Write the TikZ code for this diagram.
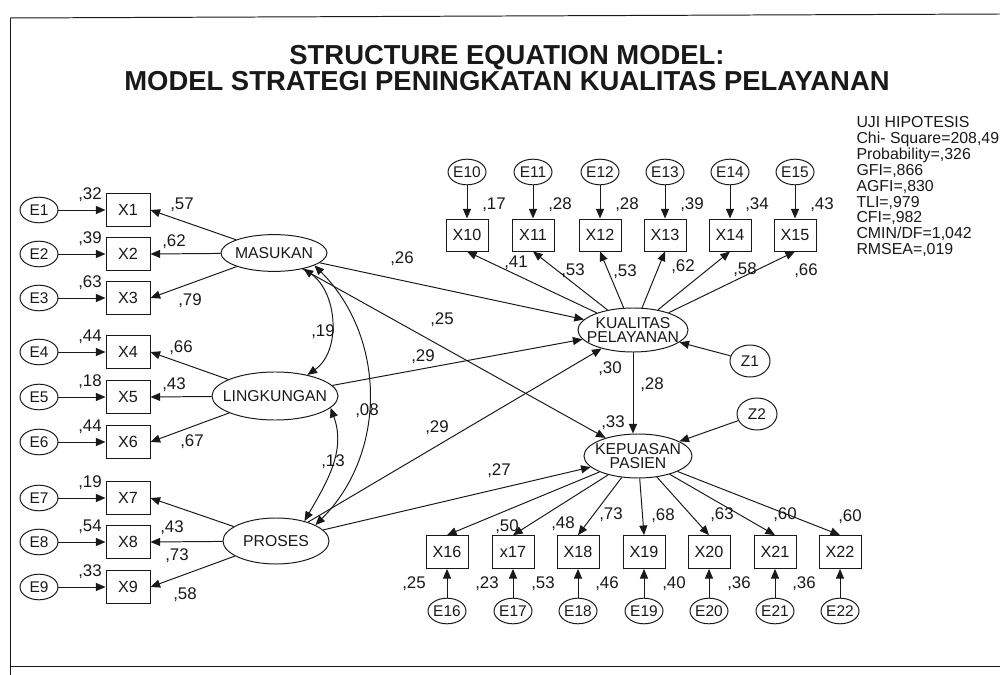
\documentclass[tikz,border=0pt]{standalone}
\usepackage{fontspec}
\setmainfont{Liberation Sans}
\definecolor{scanblack}{RGB}{25,25,25}
\usetikzlibrary{arrows.meta, shapes.geometric, calc}

\begin{document}
\begin{tikzpicture}[x=0.025cm, y=-0.025cm, line width=0.7pt, scanblack,
	obsbox/.style={draw, rectangle, minimum width=1.1cm, minimum height=0.82cm, inner sep=0pt, font=\fontsize{11.5}{11.5}\selectfont},
	errnode/.style={draw, ellipse, minimum width=0.95cm, minimum height=0.64cm, inner xsep=-2pt, inner ysep=0pt, font=\fontsize{11}{11}\selectfont},
	disturb/.style={draw, ellipse, minimum width=1.0cm, minimum height=0.8cm, inner sep=0pt, font=\fontsize{11}{11}\selectfont},
	latent/.style={draw, ellipse, inner xsep=-8pt, inner ysep=-4pt, align=center, font=\fontsize{11.2}{10}\selectfont},
	coef/.style={inner sep=0pt, font=\fontsize{12}{12}\selectfont},
	ttl/.style={inner sep=0pt, font=\fontsize{19.5}{20}\selectfont\bfseries},
	stats/.style={inner sep=0pt, align=left, font=\fontsize{11.3}{11.3}\selectfont},
	arr/.style={-{Triangle[length=2.4mm, width=2mm]}},
	biarr/.style={{Triangle[length=2.4mm, width=2mm]}-{Triangle[length=2.4mm, width=2mm]}}]
	\useasboundingbox (0,0) rectangle (1000,675);
	% marco
	\draw (10,18) -- (1000,14);
	\draw (10,18) -- (10,675);
	\draw (10,666) -- (1000,666);
	% titulo
	\node[ttl, anchor=base] (ttl1) at (507,65) {STRUCTURE EQUATION MODEL:};
	\node[ttl, anchor=base] (ttl2) at (507,91) {MODEL STRATEGI PENINGKATAN KUALITAS PELAYANAN};
	\node[stats, anchor=north west] (uji) at (856,116) {UJI HIPOTESIS\\Chi- Square=208,49\\Probability=,326\\GFI=,866\\AGFI=,830\\TLI=,979\\CFI=,982\\CMIN/DF=1,042\\RMSEA=,019};
	% indicadores exogenos
	\foreach \n/\y/\val in {1/210/32,2/254/39,3/298/63,4/352/44,5/397/18,6/442/44,7/498/19,8/542/54,9/587/33} {
		\node[errnode] (E\n) at (39,\y) {E\n};
		\node[obsbox] (X\n) at (128,\y) {X\n};
		\draw[arr] (E\n) -- (X\n);
		\node[coef] (r\n) at (90,\y-15) {,\val};
	}
	\node[latent, minimum width=2.65cm, minimum height=0.92cm] (MAS) at (274,253) {MASUKAN};
	\node[latent, minimum width=3.15cm, minimum height=1.2cm] (LING) at (275,396) {LINGKUNGAN};
	\node[latent, minimum width=2.65cm, minimum height=1.15cm] (PROS) at (276,541) {PROSES};
	\foreach \n in {1,2,3} \draw[arr] (MAS) -- (X\n.east);
	\foreach \n in {4,5,6} \draw[arr] (LING) -- (X\n.east);
	\foreach \n in {7,8,9} \draw[arr] (PROS) -- (X\n.east);
	\foreach \x/\y/\val [count=\k] in {182/205/57,174/242/62,190/301/79,181/348/66,174/385/43,192/442/67,172/528/43,177/556/73,185/595/58}
		\node[coef] (l\k) at (\x,\y) {,\val};
	% covarianzas
	\draw[biarr] (MAS.-28) to[out=-35, in=35] (LING.33);
	\draw[biarr] (MAS.-17) to[out=-45, in=45] (PROS.22);
	\draw[biarr] (LING.-12) to[out=-70, in=60] (PROS.35);
	\node[coef] (c1) at (323,332) {,19};
	\node[coef] (c2) at (367,411) {,08};
	\node[coef] (c3) at (333,462) {,13};
	% kualitas pelayanan
	\node[latent, minimum width=2.75cm, minimum height=1.1cm] (KUA) at (633,330) {KUALITAS\\PELAYANAN};
	\foreach \n/\x/\val in {10/467/17,11/533/28,12/600/28,13/665/39,14/730/34,15/795/43} {
		\node[errnode] (E\n) at (\x,172) {E\n};
		\node[obsbox, minimum width=1.05cm, minimum height=0.8cm] (X\n) at (\x,235) {X\n};
		\draw[arr] (E\n) -- (X\n);
		\draw[arr] (KUA) -- (X\n.south);
		\node[coef] (r\n) at (\x+27,205) {,\val};
	}
	\foreach \x/\y/\val [count=\k from 10] in {516/263/41,573/271/53,625/272/53,683/267/62,745/270/58,806/271/66}
		\node[coef] (l\k) at (\x,\y) {,\val};
	\node[disturb] (Z1) at (750,361) {Z1};
	\draw[arr] (Z1) -- (KUA);
	% kepuasan pasien
	\node[latent, minimum width=2.7cm, minimum height=1.1cm] (KEP) at (638,456) {KEPUASAN\\PASIEN};
	\node[disturb] (Z2) at (757,414) {Z2};
	\draw[arr] (Z2) -- (KEP);
	\foreach \n/\x/\txt in {16/447/X16,17/513/x17,18/578/X18,19/644/X19,20/709/X20,21/775/X21,22/840/X22} {
		\node[obsbox, minimum width=1.05cm, minimum height=0.82cm] (X\n) at (\x,552) {\txt};
		\node[errnode] (E\n) at (\x,611) {E\n};
		\draw[arr] (E\n) -- (X\n);
		\draw[arr] (KEP) -- (X\n.north);
	}
	\foreach \x/\y/\val [count=\k from 16] in {507/527/50,563/524/48,611/515/73,663/516/68,722/515/63,785/515/60,850/517/60}
		\node[coef] (l\k) at (\x,\y) {,\val};
	\foreach \x/\val [count=\k from 16] in {414/25,487/23,543/53,607/46,674/40,739/36,804/36}
		\node[coef] (r\k) at (\x,584) {,\val};
	% efectos estructurales
	\draw[arr] (MAS) -- (KUA);
	\draw[arr] (LING) -- (KUA);
	\draw[arr] (PROS) -- (KUA);
	\draw[arr] (MAS) -- (KEP);
	\draw[arr] (PROS) -- (KEP);
	\draw[arr] (KUA.south) -- (KUA.south |- KEP.north);
	\foreach \x/\y/\val [count=\k] in {402/259/26,442/320/25,423/357/29,437/428/29,610/369/30,652/385/28,613/423/33,499/471/27}
		\node[coef] (p\k) at (\x,\y) {,\val};
\end{tikzpicture}
\end{document}
